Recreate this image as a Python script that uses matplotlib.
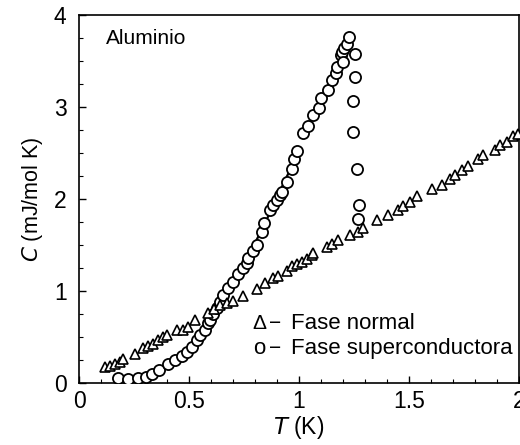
import matplotlib
matplotlib.use("Agg")
import matplotlib.pyplot as plt
from matplotlib.ticker import MultipleLocator

plt.rcParams['font.family'] = ['Liberation Sans', 'DejaVu Sans']

# Normal phase (triangles)
t_normal = [0.118, 0.141, 0.164, 0.186, 0.200, 0.255, 0.290, 0.315, 0.335, 0.360,
            0.383, 0.400, 0.444, 0.474, 0.497, 0.527, 0.588, 0.614, 0.641, 0.671,
            0.700, 0.747, 0.808, 0.845, 0.883, 0.906, 0.944, 0.967, 0.989, 1.012,
            1.035, 1.058, 1.065, 1.126, 1.149, 1.179, 1.232, 1.270, 1.292, 1.353,
            1.406, 1.452, 1.474, 1.505, 1.535, 1.603, 1.648, 1.686, 1.709, 1.739,
            1.770, 1.815, 1.838, 1.890, 1.914, 1.944, 1.974, 1.995]
c_normal = [0.17, 0.18, 0.21, 0.23, 0.26, 0.32, 0.38, 0.40, 0.42, 0.47,
            0.50, 0.52, 0.58, 0.58, 0.61, 0.68, 0.76, 0.80, 0.85, 0.87,
            0.89, 0.95, 1.02, 1.09, 1.14, 1.16, 1.22, 1.27, 1.29, 1.32,
            1.35, 1.39, 1.41, 1.48, 1.51, 1.55, 1.61, 1.64, 1.68, 1.77,
            1.83, 1.88, 1.92, 1.97, 2.03, 2.11, 2.15, 2.22, 2.26, 2.32,
            2.36, 2.43, 2.48, 2.53, 2.59, 2.62, 2.68, 2.71]

# Superconducting phase (circles)
t_super = [0.179, 0.224, 0.270, 0.305, 0.330, 0.365, 0.406, 0.436, 0.467, 0.490,
           0.512, 0.535, 0.550, 0.573, 0.588, 0.595, 0.610, 0.626, 0.641, 0.656,
           0.679, 0.700, 0.724, 0.747, 0.762, 0.770, 0.792, 0.808, 0.830, 0.840,
           0.868, 0.880, 0.898, 0.914, 0.921, 0.944, 0.967, 0.977, 0.993, 1.020,
           1.042, 1.065, 1.092, 1.098, 1.133, 1.149, 1.168, 1.171, 1.190, 1.194,
           1.199, 1.205, 1.220, 1.229, 1.255, 1.255, 1.244, 1.244, 1.262, 1.274,
           1.270]
c_super = [0.05, 0.04, 0.05, 0.07, 0.10, 0.14, 0.21, 0.25, 0.29, 0.34,
           0.39, 0.47, 0.52, 0.58, 0.65, 0.69, 0.75, 0.81, 0.88, 0.96,
           1.03, 1.10, 1.18, 1.25, 1.30, 1.36, 1.43, 1.50, 1.64, 1.74,
           1.88, 1.93, 1.99, 2.04, 2.08, 2.19, 2.33, 2.44, 2.52, 2.72,
           2.79, 2.91, 2.99, 3.10, 3.18, 3.29, 3.37, 3.44, 3.57, 3.60,
           3.49, 3.64, 3.69, 3.76, 3.58, 3.33, 3.07, 2.73, 2.33, 1.94,
           1.78]

# Theoretical curve through the superconducting points
t_curve = [0.28, 0.35, 0.40, 0.45, 0.50, 0.55, 0.60, 0.65, 0.70, 0.75,
           0.80, 0.85, 0.90, 0.95, 0.99]
c_curve = [0.00, 0.09, 0.17, 0.26, 0.36, 0.50, 0.67, 0.87, 1.08, 1.28,
           1.52, 1.76, 2.02, 2.27, 2.47]

fig = plt.figure(figsize=(5.2, 4.45), dpi=100)
ax = fig.add_axes([79 / 520, 62 / 445, 440 / 520, 368 / 445])

ax.plot(t_curve, c_curve, color='black', lw=1.6, zorder=2)
ax.plot(t_super, c_super, linestyle='none', marker='o', ms=8,
        mfc='white', mec='black', mew=1.3, zorder=3)
ax.plot(t_normal, c_normal, linestyle='none', marker='^', ms=7,
        mfc='white', mec='black', mew=1.2, zorder=3)

ax.set_xlim(0, 2)
ax.set_ylim(0, 4)
ax.xaxis.set_major_locator(MultipleLocator(0.5))
ax.xaxis.set_minor_locator(MultipleLocator(0.1))
ax.yaxis.set_major_locator(MultipleLocator(1))
ax.yaxis.set_minor_locator(MultipleLocator(0.25))
ax.set_xticks([0, 0.5, 1, 1.5, 2])
ax.set_xticklabels(['0', '0.5', '1', '1.5', '2'])
ax.tick_params(which='major', direction='in', length=5, width=1,
               labelsize=16.5, pad=5)
ax.tick_params(which='minor', direction='in', length=3, width=0.8)
ax.tick_params(axis='y', pad=9)
for s in ax.spines.values():
    s.set_linewidth(1.2)

ax.set_xlabel(r'$\it{T}$ (K)', fontsize=16.5, labelpad=1)
ax.set_ylabel(r'$\it{C}$ (mJ/mol K)', fontsize=15.5, labelpad=6)

ax.text(0.061, 0.9375, 'Aluminio', transform=ax.transAxes,
        fontsize=15, va='center', ha='left')

# legend written as text like in the original figure
ax.text(0.82, 0.65, 'Δ', fontsize=15, ha='center', va='center')
ax.text(0.89, 0.65, '−', fontsize=15, ha='center', va='center')
ax.text(0.962, 0.65, 'Fase normal', fontsize=16, ha='left', va='center')
ax.text(0.82, 0.38, 'o', fontsize=16, ha='center', va='center')
ax.text(0.89, 0.38, '−', fontsize=15, ha='center', va='center')
ax.text(0.962, 0.38, 'Fase superconductora', fontsize=16, ha='left', va='center')

fig.savefig('out.png', dpi=100)
